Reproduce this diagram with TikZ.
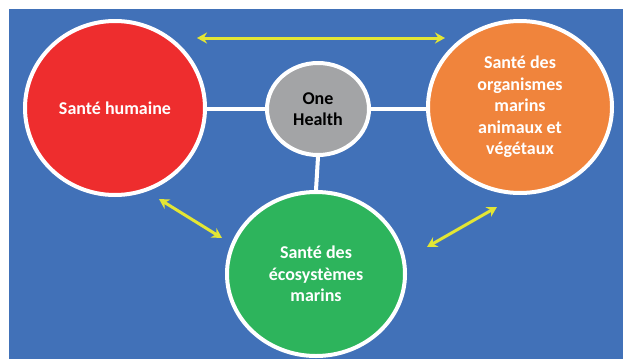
\documentclass[tikz,border=0pt]{standalone}
\usepackage{fontspec}
\setmainfont{Carlito}
\usetikzlibrary{shapes.geometric,arrows.meta}
\definecolor{bgblue}{HTML}{4171B8}
\definecolor{cred}{HTML}{EE2D2E}
\definecolor{corange}{HTML}{F0843C}
\definecolor{cgreen}{HTML}{2DB45C}
\definecolor{cgray}{HTML}{A3A4A6}
\definecolor{cyellow}{HTML}{E3E634}
\begin{document}
\begin{tikzpicture}[x=1pt,y=-1pt,
  blob/.style={ellipse,draw=white,line width=4pt,inner sep=0pt,align=center,
    font=\fontsize{18}{21.5}\selectfont\bfseries,text=white},
  link/.style={white,line width=4pt},
  twoway/.style={cyellow,line width=3pt,{Stealth[length=10pt,width=11pt]}-{Stealth[length=10pt,width=11pt]}}]
\useasboundingbox (0,0) rectangle (623,359);
\fill[white] (0,0) rectangle (623,359);
\fill[bgblue] (9,9) rectangle (623,359);
\begin{scope}
\clip (9,9) rectangle (623,359);
\node[blob,fill=cred,minimum width=180pt,minimum height=174pt] (hum) at (115,108) {Santé humaine};
\node[blob,fill=corange,minimum width=184pt,minimum height=172pt] (org) at (520,107) {Santé des\\organismes\\marins\\animaux et\\végétaux};
\node[blob,fill=cgreen,minimum width=178pt,minimum height=164pt] (eco) at (316,274) {Santé des\\écosystèmes\\marins};
\node[blob,fill=cgray,text=black,minimum width=102pt,minimum height=92pt] (one) at (318,109) {One\\Health};
\end{scope}
\draw[link] (one.west) -- (one.west -| hum.east);
\draw[link] (one.east) -- (one.east -| org.west);
\draw[link] (one.south) -- (eco.north);
\coordinate (a1) at (197,38);
\coordinate (a2) at (445,38);
\coordinate (b1) at (159,199);
\coordinate (b2) at (222,238);
\coordinate (c1) at (497,207);
\coordinate (c2) at (427,247);
\draw[twoway] (a1) -- (a2);
\draw[twoway] (b1) -- (b2);
\draw[twoway] (c1) -- (c2);
\end{tikzpicture}
\end{document}
